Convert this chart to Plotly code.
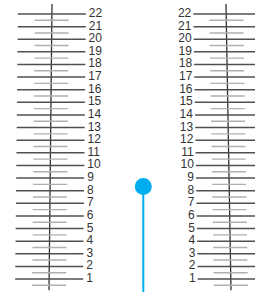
import plotly.graph_objects as go

# data
tick_values = list(range(1, 23))
tick_labels = [str(v) for v in tick_values]
half_values = [v + 0.5 for v in range(0, 22)]
lollipop_value = 8.33

Y_MIN, Y_MAX = -0.03, 23.11
RULER_TOP, RULER_BOTTOM = 22.8, 0.1

fig = go.Figure()


def lerp(v, x_bottom, x_top):
    t = (v - Y_MIN) / (Y_MAX - Y_MIN)
    return x_bottom + (x_top - x_bottom) * t


def add_ruler(center_top, center_bottom, long_l, long_r, short_l, short_r):
    fig.add_trace(go.Scatter(
        x=[center_bottom, center_top], y=[RULER_BOTTOM, RULER_TOP],
        mode="lines", line=dict(color="#333333", width=1.3),
        hoverinfo="skip", showlegend=False))
    xs, ys = [], []
    for v in tick_values:
        c = lerp(v, center_bottom, center_top)
        xs += [c + long_l, c + long_r, None]
        ys += [v, v, None]
    fig.add_trace(go.Scatter(x=xs, y=ys, mode="lines",
                             line=dict(color="#505050", width=1.5),
                             hoverinfo="skip", showlegend=False))
    xs, ys = [], []
    for v in half_values:
        c = lerp(v, center_bottom, center_top)
        xs += [c + short_l, c + short_r, None]
        ys += [v, v, None]
    fig.add_trace(go.Scatter(x=xs, y=ys, mode="lines",
                             line=dict(color="#b0b0b0", width=1.4),
                             hoverinfo="skip", showlegend=False))


# left ruler
add_ruler(52, 49, -34, 34, -17, 17)
# right ruler
add_ruler(226, 231, -33, 40, -17, 17)

fig.add_trace(go.Scatter(
    x=[lerp(v, 49, 52) + 37 for v in tick_values], y=tick_values,
    mode="text", text=tick_labels, textposition="middle right",
    textfont=dict(family="Liberation Sans, Arial", size=12, color="#333333"),
    hoverinfo="skip", showlegend=False))
fig.add_trace(go.Scatter(
    x=[lerp(v, 231, 226) - 35 for v in tick_values], y=tick_values,
    mode="text", text=tick_labels, textposition="middle left",
    textfont=dict(family="Liberation Sans, Arial", size=12, color="#333333"),
    hoverinfo="skip", showlegend=False))

# lollipop
fig.add_trace(go.Scatter(
    x=[143.3, 143.3], y=[Y_MIN, lollipop_value], mode="lines",
    line=dict(color="#00aeef", width=2), hoverinfo="skip", showlegend=False))
fig.add_trace(go.Scatter(
    x=[143.3], y=[lollipop_value], mode="markers",
    marker=dict(color="#00aeef", size=17), hoverinfo="skip", showlegend=False))

fig.update_layout(
    width=255, height=292,
    margin=dict(l=0, r=0, t=0, b=0),
    paper_bgcolor="white", plot_bgcolor="white",
    xaxis=dict(range=[0, 255], visible=False, fixedrange=True),
    yaxis=dict(range=[Y_MIN, Y_MAX], visible=False, fixedrange=True),
)

fig.write_html("out.html", config={"displayModeBar": False},
               post_script="document.body.style.margin='0px';document.body.style.overflow='hidden';")
